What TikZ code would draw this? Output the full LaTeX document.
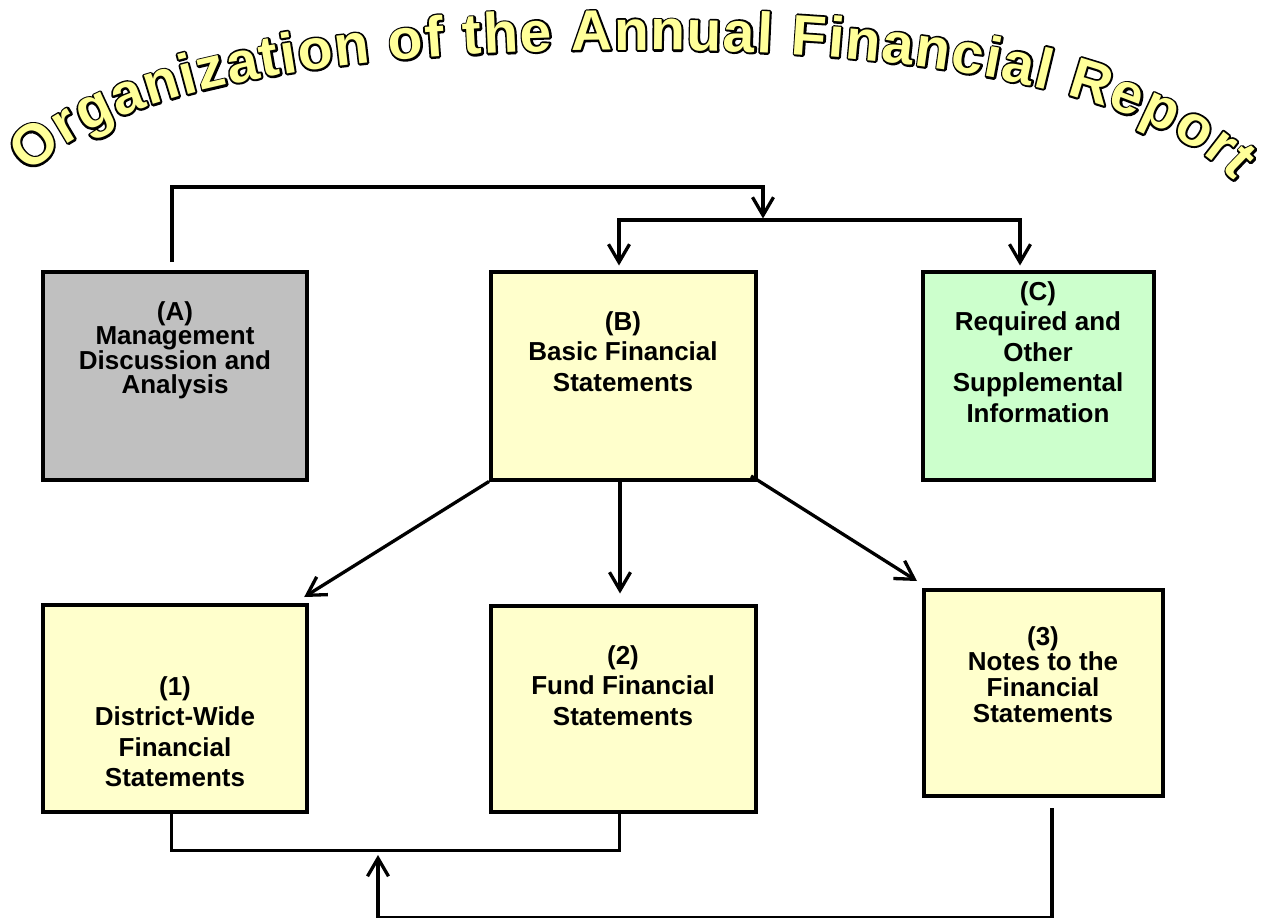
\documentclass[tikz,border=0pt]{standalone}
\usepackage{fontspec}
\setmainfont{Liberation Sans}
\usetikzlibrary{arrows.meta,decorations.text,calc}
\definecolor{boxgray}{HTML}{C0C0C0}
\definecolor{boxyel}{HTML}{FFFFCC}
\definecolor{boxgreen}{HTML}{CCFFCC}
\definecolor{titleyel}{HTML}{FFFF99}
% title letters: a black stroked layer (outline) under a yellow filled layer
\newcommand\titleoutline{\bfseries\fontsize{57}{60}\selectfont\color{black}\special{pdf:literal direct 3.8 w 1 j 2 Tr}}
\newcommand\titlefill{\bfseries\fontsize{57}{60}\selectfont\color{titleyel}\special{pdf:literal direct 0 Tr}}
\newcommand\plainTr{\special{pdf:literal direct 0 Tr}}
\begin{document}
\begin{tikzpicture}[x=1pt,y=-1pt,
  box/.style={draw=black, line width=4pt, rectangle, inner sep=0pt},
  lbl/.style={font=\plainTr\bfseries\fontsize{26}{30.5}\selectfont, align=center, inner sep=0pt, anchor=north},
  lbltight/.style={lbl, font=\plainTr\bfseries\fontsize{26}{24.5}\selectfont},
  conn/.style={line width=3.3pt, line join=miter},
  arr/.style={conn, -{Straight Barb[length=18pt,width=21pt]}}]
\fill[white] (0,0) rectangle (1275,918);
\useasboundingbox (0,0) rectangle (1275,918);

% title: outline layer, then fill layer
\path[decorate, decoration={text along path,
    text={|\titleoutline|Organization of the Annual Financial Report},
    text align={fit to path}}]
  (30,175) .. controls (120,75) and (400,50) .. (640,50) .. controls (880,50) and (1140,80) .. (1234,181);
\path[decorate, decoration={text along path,
    text={|\titlefill|Organization of the Annual Financial Report},
    text align={fit to path}}]
  (30,175) .. controls (120,75) and (400,50) .. (640,50) .. controls (880,50) and (1140,80) .. (1234,181);

% boxes
\node[box, fill=boxgray,  minimum width=264pt, minimum height=208pt] (A) at (174.7,375.5) {};
\node[box, fill=boxyel,   minimum width=265pt, minimum height=208pt] (B) at (623.5,375.5) {};
\node[box, fill=boxgreen, minimum width=231pt, minimum height=208pt] (C) at (1038.5,375.5) {};
\node[box, fill=boxyel,   minimum width=264pt, minimum height=207pt] (n1) at (174.7,708) {};
\node[box, fill=boxyel,   minimum width=265pt, minimum height=206pt] (n2) at (623.5,708.5) {};
\node[box, fill=boxyel,   minimum width=239pt, minimum height=206pt] (n3) at (1043,692.5) {};

% labels
\node[lbltight] (tA) at (175,301) {(A)\\Management\\Discussion and\\Analysis};
\node[lbl] (tB) at (623,311) {(B)\\Basic Financial\\Statements};
\node[lbl] (tC) at (1038,281) {(C)\\Required and\\Other\\Supplemental\\Information};
\node[lbl] (t1) at (175,676) {(1)\\District-Wide\\Financial\\Statements};
\node[lbl] (t2) at (623,645) {(2)\\Fund Financial\\Statements};
\node[lbltight, font=\plainTr\bfseries\fontsize{26}{25.7}\selectfont] (t3) at (1043,626) {(3)\\Notes to the\\Financial\\Statements};

% connectors
\coordinate (topr) at (763,187);
\coordinate (split) at (763,220);
\draw[arr] ([xshift=-2.7pt,yshift=7.5pt]A.north) |- (topr) -- ([yshift=1.5pt]split);
\draw[conn] ([xshift=-4.5pt]B.north |- split) -- ([xshift=-18.5pt]C.north |- split);
\draw[arr] (split) -| ([xshift=-4.5pt,yshift=4pt]B.north);
\draw[arr] (split) -| ([xshift=-18.5pt,yshift=4pt]C.north);

\draw[arr] (B.south west) -- ([xshift=-4.5pt,yshift=5.5pt]n1.north east);
\draw[arr] ([xshift=-3.5pt]B.south) -- ([xshift=-3.5pt,yshift=10pt]n2.north);
\draw[arr] ([xshift=-7pt,yshift=5.5pt]B.south east) -- ([xshift=-4.5pt,yshift=6.5pt]n3.north west);

\coordinate (bk) at (378,849);
\draw[conn, line width=3.8pt] ([xshift=-3.2pt]n1.south) -- ++(0pt,-37pt) -| ([xshift=-4pt]n2.south);
\draw[arr] ([xshift=9pt,yshift=-10.5pt]n3.south) -- ++(0pt,-110pt) -| ([yshift=-6pt]bk);
\end{tikzpicture}
\end{document}
